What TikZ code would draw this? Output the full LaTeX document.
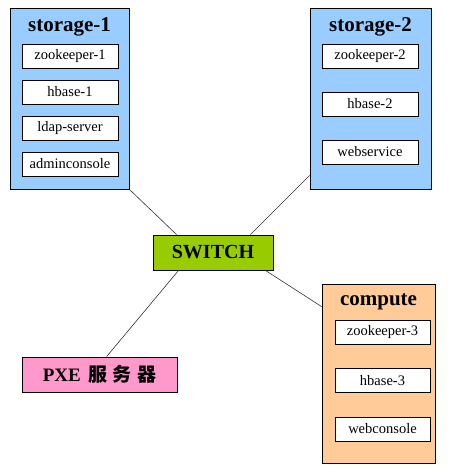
\documentclass[tikz,border=0pt]{standalone}
\usepackage{fontspec}
\setmainfont{Liberation Serif}
\newfontfamily\cjk{Noto Sans CJK SC}
\usepackage{tikz}
\usetikzlibrary{positioning,calc}
\definecolor{hostblue}{RGB}{153,204,255}
\definecolor{switchgreen}{RGB}{153,204,0}
\definecolor{computeorange}{RGB}{255,204,153}
\definecolor{pxepink}{RGB}{255,153,204}

\begin{document}
\begin{tikzpicture}[
  x=1pt,y=-1pt,
  host/.style={draw=black,line width=0.8pt,inner sep=0pt},
  title/.style={font=\fontsize{21}{23}\selectfont\bfseries},
  svc/.style={draw=black,line width=0.8pt,fill=white,minimum width=96pt,
    minimum height=24pt,inner sep=0pt,font=\fontsize{14.5}{16}\selectfont},
  link/.style={draw=black!80,line width=0.6pt}
]
\useasboundingbox (0,0) rectangle (455,475);

% storage-1
\node[host,fill=hostblue,minimum width=119pt,minimum height=181pt]
  (s1) at (69.5,98.5) {};
\node[title] (s1t) at (69.5,27) {storage-1};
\node[svc] (zk1) at (70,56) {zookeeper-1};
\node[svc] (hb1) at (70,92) {hbase-1};
\node[svc] (ldap) at (70,128) {ldap-server};
\node[svc] (admin) at (70,164) {adminconsole};

% storage-2
\node[host,fill=hostblue,minimum width=121pt,minimum height=181pt]
  (s2) at (370.5,98.5) {};
\node[title] (s2t) at (370.5,27) {storage-2};
\node[svc] (zk2) at (370,56) {zookeeper-2};
\node[svc] (hb2) at (370,104) {hbase-2};
\node[svc] (ws) at (370,152) {webservice};

% SWITCH
\node[host,fill=switchgreen,minimum width=120pt,minimum height=35pt,
  font=\fontsize{20}{22}\selectfont\bfseries] (sw) at (213,252.5) {SWITCH};

% compute
\node[host,fill=computeorange,minimum width=113pt,minimum height=179pt]
  (cp) at (378.5,373.5) {};
\node[title] (cpt) at (378.5,302) {compute};
\node[svc,minimum width=95pt] (zk3) at (382.5,332) {zookeeper-3};
\node[svc,minimum width=95pt] (hb3) at (382.5,380.5) {hbase-3};
\node[svc,minimum width=95pt] (wc) at (382.5,429) {webconsole};

% PXE 服务器
\node[host,fill=pxepink,minimum width=155pt,minimum height=35pt,
  font=\fontsize{19}{21}\selectfont\bfseries] (pxe) at (99.5,374.5)
  {PXE\, {\cjk 服\;务\;器}};

% 连线
\draw[link] (s1.south east) -- ([xshift=24pt]sw.north west);
\draw[link] ([yshift=14pt]s2.south west) -- ([xshift=-23pt]sw.north east);
\draw[link] ([xshift=-8pt]sw.south east) -- ([yshift=-23pt]cp.north west);
\draw[link] ([xshift=26pt]sw.south west) -- ([xshift=85pt]pxe.north west);
\end{tikzpicture}
\end{document}
